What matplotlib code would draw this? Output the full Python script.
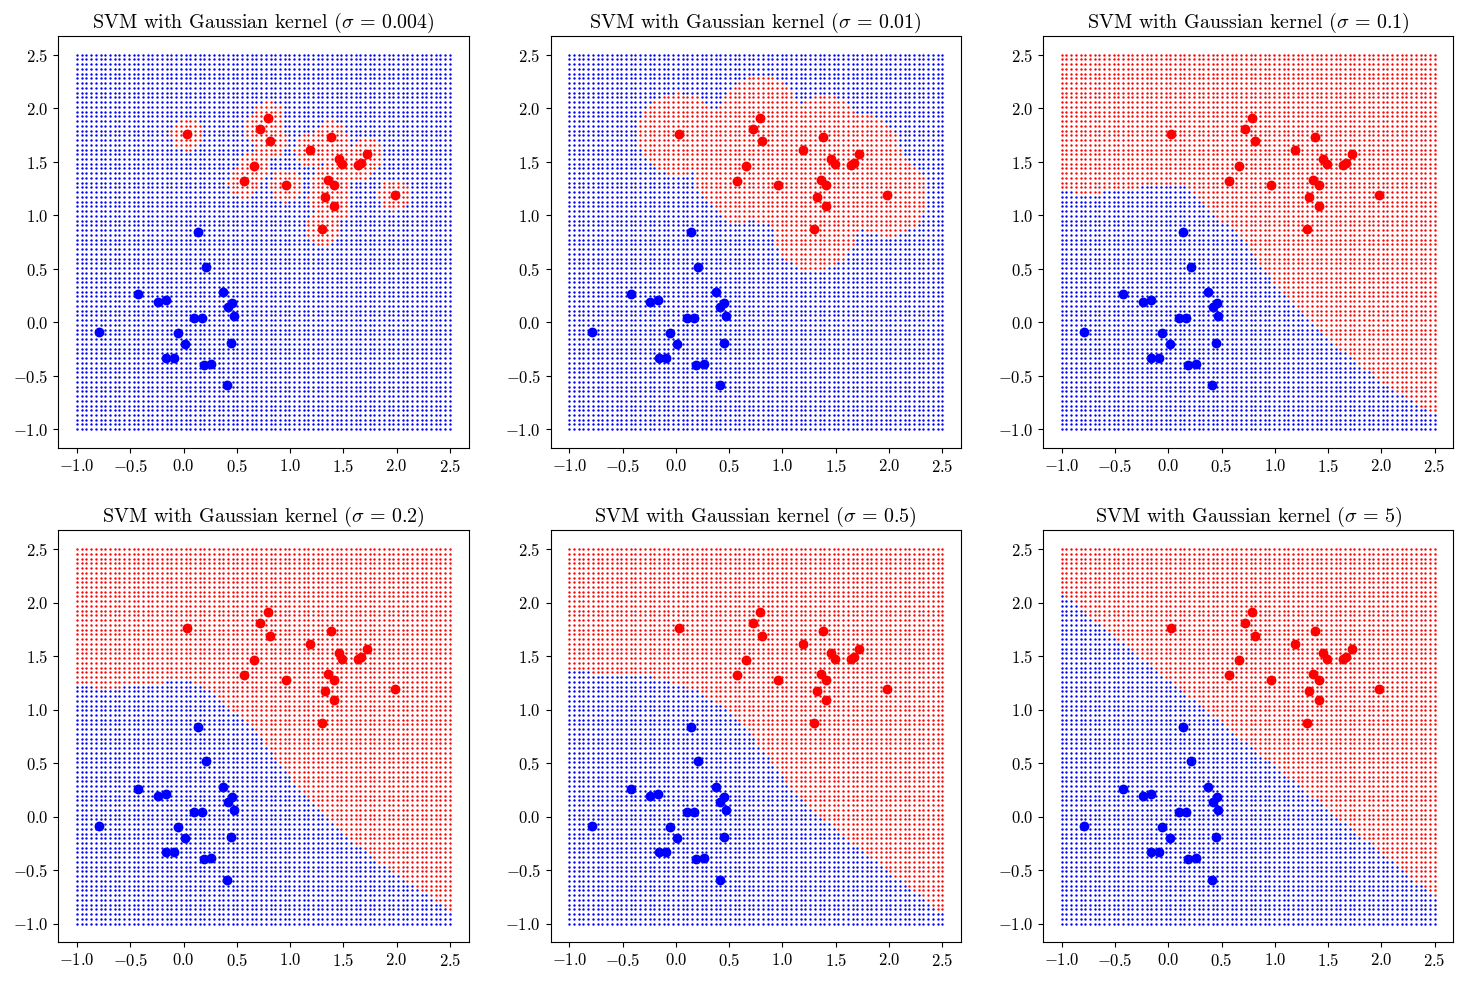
import numpy as np
import matplotlib
matplotlib.use("Agg")
import matplotlib.pyplot as plt

plt.rcParams['font.family'] = 'serif'
plt.rcParams['font.serif'] = ['cmr10']
plt.rcParams['mathtext.fontset'] = 'cm'
plt.rcParams['axes.formatter.use_mathtext'] = True
plt.rcParams['font.size'] = 12

# training points
red_x = [0.03, 0.79, 0.72, 0.81, 0.66, 0.57, 0.96, 1.19, 1.38, 1.455,
         1.49, 1.64, 1.67, 1.72, 1.36, 1.41, 1.325, 1.41, 1.98, 1.30]
red_y = [1.76, 1.91, 1.81, 1.69, 1.46, 1.32, 1.28, 1.61, 1.73, 1.525,
         1.475, 1.47, 1.49, 1.57, 1.33, 1.28, 1.17, 1.09, 1.19, 0.87]
blue_x = [0.14, 0.21, -0.425, -0.24, -0.165, 0.375, 0.456, 0.416, 0.47, 0.10,
          0.17, -0.79, -0.056, 0.012, 0.45, -0.16, -0.09, 0.19, 0.26, 0.41]
blue_y = [0.84, 0.52, 0.26, 0.19, 0.21, 0.28, 0.18, 0.14, 0.06, 0.04,
          0.04, -0.09, -0.10, -0.20, -0.19, -0.33, -0.33, -0.40, -0.39, -0.59]

sigmas = [0.004, 0.01, 0.1, 0.2, 0.5, 5]
sigma_labels = ['0.004', '0.01', '0.1', '0.2', '0.5', '5']

grid_min, grid_max, grid_n = -1.0, 2.5, 80


def gauss_kernel(A, B, sigma):
    d2 = ((A[:, None, :] - B[None, :, :]) ** 2).sum(-1)
    return np.exp(-d2 / (2 * sigma ** 2))


def train_svm(X, y, sigma, C=100.0, sweeps=20000):
    # SVM ohne bias, duales Problem per Koordinatenabstieg
    K = gauss_kernel(X, X, sigma)
    Q = (y[:, None] * y[None, :]) * K
    n = len(y)
    alpha = np.zeros(n)
    g = np.zeros(n)  # Q @ alpha
    for it in range(sweeps):
        maxstep = 0.0
        for i in range(n):
            new = min(max(alpha[i] + (1.0 - g[i]) / Q[i, i], 0.0), C)
            d = new - alpha[i]
            if d != 0.0:
                alpha[i] = new
                g += d * Q[:, i]
                maxstep = max(maxstep, abs(d))
        if maxstep < 1e-9:
            break
    return alpha


X = np.column_stack([red_x + blue_x, red_y + blue_y])
y = np.array([1.0] * len(red_x) + [-1.0] * len(blue_x))

gx, gy = np.meshgrid(np.linspace(grid_min, grid_max, grid_n),
                     np.linspace(grid_min, grid_max, grid_n))
G = np.column_stack([gx.ravel(), gy.ravel()])

fig, axes = plt.subplots(2, 3, figsize=(14.68, 9.83), dpi=100)
fig.subplots_adjust(left=0.0397, right=0.990, top=0.9634, bottom=0.0414,
                    wspace=0.2, hspace=0.2)

for ax, sigma, lab in zip(axes.ravel(), sigmas, sigma_labels):
    alpha = train_svm(X, y, sigma)
    f = gauss_kernel(G, X, sigma) @ (alpha * y)
    pos = f > 0
    ax.scatter(G[pos, 0], G[pos, 1], s=3, c='red', linewidths=0)
    ax.scatter(G[~pos, 0], G[~pos, 1], s=3, c='blue', linewidths=0)
    ax.scatter(red_x, red_y, s=50, c='red', linewidths=0)
    ax.scatter(blue_x, blue_y, s=50, c='blue', linewidths=0)
    ax.set_title(r'SVM with Gaussian kernel ($\sigma\,=\,%s$)' % lab)
    ax.set_xticks(np.arange(-1.0, 2.51, 0.5))
    ax.set_yticks(np.arange(-1.0, 2.51, 0.5))

fig.savefig('out.png')
